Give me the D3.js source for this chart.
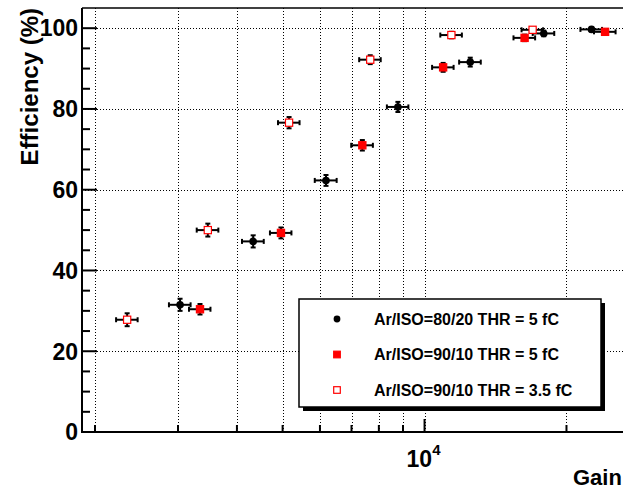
<!DOCTYPE html>
<html>
<head>
<meta charset="utf-8">
<script src="https://cdn.jsdelivr.net/npm/d3@7"></script>
<style>
  html, body { margin: 0; padding: 0; background: #fff; overflow: hidden; }
  svg { display: block; font-family: "Liberation Sans", Arial, Helvetica, sans-serif; font-weight: bold; }
</style>
</head>
<body>
<div id="chart"></div>
<script>
// data: gain, efficiency (%), and their errors
const gainBlack = [3030, 4330, 6180, 8780, 12500, 17900, 22600];
const effBlack = [31.5, 47.2, 62.3, 80.5, 91.6, 98.7, 99.7];
const gainErrBlack = [160, 230, 330, 460, 660, 940, 1190];
const effErrBlack = [1.5, 1.5, 1.35, 1.25, 1.1, 0.7, 0.5];

const gainRed = [3340, 4960, 7380, 10950, 16300, 24150];
const effRed = [30.4, 49.3, 71.0, 90.3, 97.6, 99.1];
const gainErrRed = [175, 260, 390, 575, 860, 1270];
const effErrRed = [1.3, 1.35, 1.3, 1.1, 0.8, 0.5];

const gainOpen = [2340, 3470, 5160, 7670, 11400, 16950];
const effOpen = [27.8, 50.0, 76.6, 92.2, 98.3, 99.6];
const gainErrOpen = [123, 183, 271, 403, 600, 890];
const effErrOpen = [1.6, 1.6, 1.4, 1.1, 0.8, 0.5];

const legendLabels = [
  "Ar/ISO=80/20 THR = 5 fC",
  "Ar/ISO=90/10 THR = 5 fC",
  "Ar/ISO=90/10 THR = 3.5 fC",
];
const xTicks = [2000, 3000, 4000, 5000, 6000, 7000, 8000, 9000, 10000, 20000];
const yTicks = [0, 20, 40, 60, 80, 100];

const W = 623, H = 494;
const frame = { left: 82, right: 639, top: 8, bottom: 432 };

const svg = d3.select("#chart").append("svg").attr("width", W).attr("height", H);

const x = d3.scaleLog().domain([1877, 28500]).range([frame.left, frame.right]);
const y = d3.scaleLinear().domain([0, 105]).range([frame.bottom, frame.top]);

const pack = (g, e, ge, ee) => g.map((v, i) => ({ gain: v, eff: e[i], gErr: ge[i], eErr: ee[i] }));
const series = [
  { name: legendLabels[0], kind: "circle", fill: "#000", stroke: "#000", data: pack(gainBlack, effBlack, gainErrBlack, effErrBlack) },
  { name: legendLabels[1], kind: "square", fill: "#f00", stroke: "#f00", data: pack(gainRed, effRed, gainErrRed, effErrRed) },
  { name: legendLabels[2], kind: "square", fill: "#fff", stroke: "#f00", data: pack(gainOpen, effOpen, gainErrOpen, effErrOpen) },
];

// grid
const grid = svg.append("g").attr("stroke", "#000").attr("stroke-width", 1).attr("stroke-dasharray", "1,2");
grid.selectAll(".gx").data(xTicks).enter().append("line")
  .attr("x1", (d) => Math.round(x(d)) + 0.5).attr("x2", (d) => Math.round(x(d)) + 0.5)
  .attr("y1", frame.top).attr("y2", frame.bottom);
grid.selectAll(".gy").data(yTicks.filter((d) => d > 0)).enter().append("line")
  .attr("x1", frame.left).attr("x2", frame.right)
  .attr("y1", (d) => Math.round(y(d)) + 0.5).attr("y2", (d) => Math.round(y(d)) + 0.5);

// frame top line
svg.append("line").attr("x1", frame.left).attr("x2", frame.right)
  .attr("y1", frame.top).attr("y2", frame.top).attr("stroke", "#000").attr("stroke-width", 1.5);

// y axis
const yAxis = svg.append("g").attr("stroke", "#000").attr("stroke-width", 2);
yAxis.append("line").attr("x1", frame.left).attr("x2", frame.left).attr("y1", frame.top).attr("y2", frame.bottom + 1);
yAxis.selectAll(".ty").data(d3.range(0, 101, 5)).enter().append("line")
  .attr("x1", frame.left).attr("x2", (d) => frame.left + (d % 20 === 0 ? 15 : 8))
  .attr("y1", (d) => y(d)).attr("y2", (d) => y(d));
svg.append("g").selectAll("text").data(yTicks).enter().append("text")
  .attr("x", 78).attr("y", (d) => y(d)).attr("dy", "0.36em")
  .attr("text-anchor", "end").style("font-size", "23px").text((d) => d);

// x axis
const xAxis = svg.append("g").attr("stroke", "#000").attr("stroke-width", 2);
xAxis.append("line").attr("x1", frame.left - 1).attr("x2", frame.right).attr("y1", frame.bottom).attr("y2", frame.bottom);
xAxis.selectAll(".tx").data(xTicks).enter().append("line")
  .attr("x1", (d) => x(d)).attr("x2", (d) => x(d))
  .attr("y1", frame.bottom).attr("y2", (d) => frame.bottom - (d === 10000 ? 13 : 7));
const lab = svg.append("text").attr("x", x(10000) - 18).attr("y", 467).style("font-size", "23px");
lab.append("tspan").text("10");
lab.append("tspan").attr("dy", -12).style("font-size", "15px").text("4");

// axis titles
svg.append("text").attr("x", 573).attr("y", 485).style("font-size", "22px").text("Gain");
svg.append("text").attr("transform", "translate(38,8) rotate(-90)")
  .attr("text-anchor", "end").style("font-size", "24px").text("Efficiency (%)");

// points with error bars
const cap = 2.5, half = 3.6;
series.forEach((s) => {
  const g = svg.append("g");
  const pts = g.selectAll("g").data(s.data).enter().append("g");
  pts.each(function (d) {
    const p = d3.select(this);
    const cx = x(d.gain), cy = y(d.eff);
    const xl = x(d.gain - d.gErr), xr = x(d.gain + d.gErr);
    const yt = y(d.eff + d.eErr), yb = y(d.eff - d.eErr);
    const segs = [
      [xl, cy, xr, cy], [cx, yt, cx, yb],
      [xl, cy - cap, xl, cy + cap], [xr, cy - cap, xr, cy + cap],
      [cx - cap, yt, cx + cap, yt], [cx - cap, yb, cx + cap, yb],
    ];
    p.selectAll("line").data(segs).enter().append("line")
      .attr("x1", (q) => q[0]).attr("y1", (q) => q[1]).attr("x2", (q) => q[2]).attr("y2", (q) => q[3])
      .attr("stroke", "#000").attr("stroke-width", 2);
    if (s.kind === "circle") {
      p.append("circle").attr("cx", cx).attr("cy", cy).attr("r", 3.8).attr("fill", s.fill);
    } else {
      p.append("rect").attr("x", cx - half).attr("y", cy - half).attr("width", half * 2).attr("height", half * 2)
        .attr("fill", s.fill).attr("stroke", s.stroke).attr("stroke-width", 1.2);
    }
  });
});

// legend
const lg = { x: 299, y: 299, w: 302, h: 108 };
svg.append("rect").attr("x", lg.x + 4).attr("y", lg.y + 4).attr("width", lg.w).attr("height", lg.h).attr("fill", "#000");
svg.append("rect").attr("x", lg.x).attr("y", lg.y).attr("width", lg.w).attr("height", lg.h)
  .attr("fill", "#fff").attr("stroke", "#000").attr("stroke-width", 1.5);
const rowY = [319, 354.5, 390];
series.forEach((s, i) => {
  const cy = rowY[i], cx = 337;
  if (s.kind === "circle") {
    svg.append("circle").attr("cx", cx).attr("cy", cy).attr("r", 3.4).attr("fill", s.fill);
  } else {
    svg.append("rect").attr("x", cx - 3.3).attr("y", cy - 3.3).attr("width", 6.6).attr("height", 6.6)
      .attr("fill", s.fill).attr("stroke", s.stroke).attr("stroke-width", 1.2);
  }
  svg.append("text").attr("x", 374).attr("y", cy).attr("dy", "0.36em")
    .style("font-size", "16px").text(s.name);
});
</script>
</body>
</html>
